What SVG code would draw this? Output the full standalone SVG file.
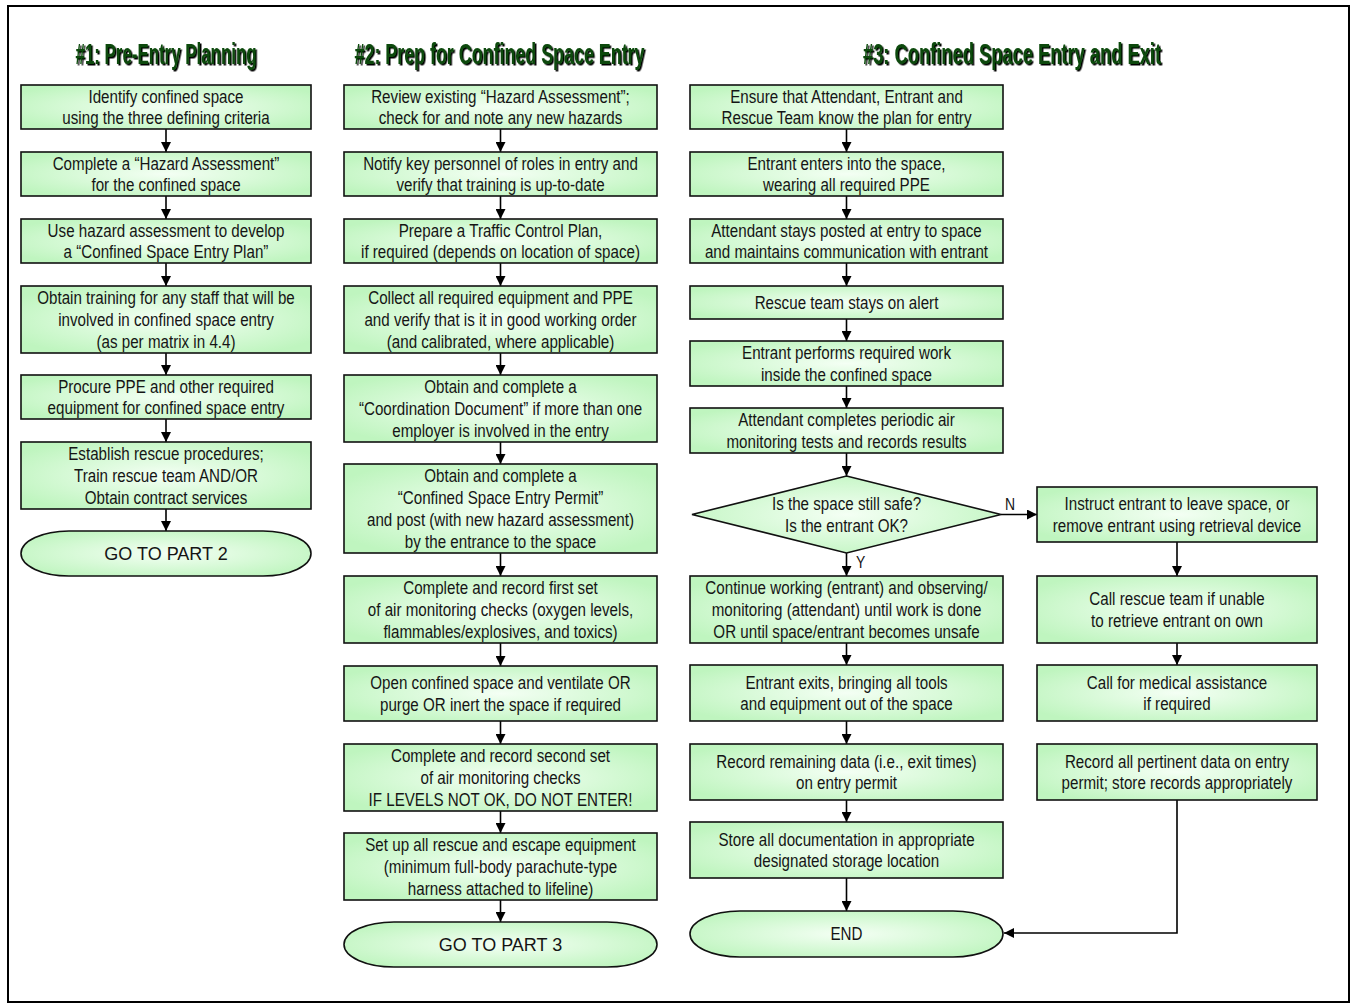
<svg xmlns="http://www.w3.org/2000/svg" width="1354" height="1007" viewBox="0 0 1354 1007">
<defs>
<radialGradient id="gf" cx="0.5" cy="0.5" r="0.6">
<stop offset="0" stop-color="#f4fff4"/>
<stop offset="1" stop-color="#bff5bf"/>
</radialGradient>
<filter id="sh" x="-5%" y="-20%" width="110%" height="140%">
<feDropShadow dx="1.5" dy="1.5" stdDeviation="0" flood-color="#000" flood-opacity="1"/>
</filter>
<marker id="ah" markerUnits="userSpaceOnUse" markerWidth="11" markerHeight="10" refX="10" refY="5" orient="auto">
<path d="M0,0 L10,5 L0,10 z" fill="#000"/>
</marker>
<style>
.bx{fill:url(#gf);stroke:#111;stroke-width:1.6}
.t{font-family:"Liberation Sans",Arial,sans-serif;font-size:18.5px;fill:#151515;text-anchor:middle}
.tw{font-family:"Liberation Sans",Arial,sans-serif;font-size:18px;fill:#151515;text-anchor:middle}
.ti{font-family:"Liberation Sans",Arial,sans-serif;font-weight:bold;font-size:30px;text-anchor:middle;fill:#0a4a0a;filter:url(#sh)}
.c{fill:none;stroke:#000;stroke-width:1.6;marker-end:url(#ah)}
.lb{font-family:"Liberation Sans",Arial,sans-serif;font-size:17px;fill:#151515}
</style>
</defs>
<rect x="8" y="6" width="1341" height="996" fill="#fff" stroke="#000" stroke-width="2"/>

<g id="titles">
<text class="ti" x="166" y="64" textLength="181" lengthAdjust="spacingAndGlyphs">#1: Pre-Entry Planning</text>
<text class="ti" x="499.5" y="64" textLength="290" lengthAdjust="spacingAndGlyphs">#2: Prep for Confined Space Entry</text>
<text class="ti" x="1012" y="64" textLength="298" lengthAdjust="spacingAndGlyphs">#3: Confined Space Entry and Exit</text>
</g>

<g id="connectors">
<path class="c" d="M166,129V152"/>
<path class="c" d="M166,196V219"/>
<path class="c" d="M166,263V286"/>
<path class="c" d="M166,353V375"/>
<path class="c" d="M166,419V442"/>
<path class="c" d="M166,509V531"/>
<path class="c" d="M500.5,129V152"/>
<path class="c" d="M500.5,196V219"/>
<path class="c" d="M500.5,263V286"/>
<path class="c" d="M500.5,353V375"/>
<path class="c" d="M500.5,442V464"/>
<path class="c" d="M500.5,553V576"/>
<path class="c" d="M500.5,643V666"/>
<path class="c" d="M500.5,721V744"/>
<path class="c" d="M500.5,811V833"/>
<path class="c" d="M500.5,900V922"/>
<path class="c" d="M846.5,129V152"/>
<path class="c" d="M846.5,196V219"/>
<path class="c" d="M846.5,263V286"/>
<path class="c" d="M846.5,319V341"/>
<path class="c" d="M846.5,386V408"/>
<path class="c" d="M846.5,453V476"/>
<path class="c" d="M846.5,553V576"/>
<path class="c" d="M846.5,643V665"/>
<path class="c" d="M846.5,721V744"/>
<path class="c" d="M846.5,800V822"/>
<path class="c" d="M846.5,878V911"/>
<path class="c" d="M1001,514.5H1037"/>
<path class="c" d="M1177,542V576"/>
<path class="c" d="M1177,643V665"/>
<path class="c" d="M1177,800V933H1004"/>
<text class="lb" transform="translate(1005 510) scale(0.82 1)">N</text>
<text class="lb" transform="translate(856 568) scale(0.82 1)">Y</text>
</g>

<g id="p1-1"><rect class="bx" x="21" y="85" width="290" height="44"/><g transform="translate(166 0) scale(0.82 1)"><text class="t" x="0" y="102.7">Identify confined space</text><text class="t" x="0" y="124.3">using the three defining criteria</text></g></g>
<g id="p1-2"><rect class="bx" x="21" y="152" width="290" height="44"/><g transform="translate(166 0) scale(0.82 1)"><text class="t" x="0" y="169.7">Complete a “Hazard Assessment”</text><text class="t" x="0" y="191.3">for the confined space</text></g></g>
<g id="p1-3"><rect class="bx" x="21" y="219" width="290" height="44"/><g transform="translate(166 0) scale(0.82 1)"><text class="t" x="0" y="236.7">Use hazard assessment to develop</text><text class="t" x="0" y="258.3">a “Confined Space Entry Plan”</text></g></g>
<g id="p1-4"><rect class="bx" x="21" y="286" width="290" height="67"/><g transform="translate(166 0) scale(0.82 1)"><text class="t" x="0" y="304.3">Obtain training for any staff that will be</text><text class="t" x="0" y="326">involved in confined space entry</text><text class="t" x="0" y="347.7">(as per matrix in 4.4)</text></g></g>
<g id="p1-5"><rect class="bx" x="21" y="375" width="290" height="44"/><g transform="translate(166 0) scale(0.82 1)"><text class="t" x="0" y="392.7">Procure PPE and other required</text><text class="t" x="0" y="414.3">equipment for confined space entry</text></g></g>
<g id="p1-6"><rect class="bx" x="21" y="442" width="290" height="67"/><g transform="translate(166 0) scale(0.82 1)"><text class="t" x="0" y="460.3">Establish rescue procedures;</text><text class="t" x="0" y="482">Train rescue team AND/OR</text><text class="t" x="0" y="503.7">Obtain contract services</text></g></g>
<g id="p1-end"><rect class="bx" x="21" y="531" width="290" height="45" rx="48" ry="22.5"/><text class="tw" x="166" y="560">GO TO PART 2</text></g>

<g id="p2-1"><rect class="bx" x="344" y="85" width="313" height="44"/><g transform="translate(500.5 0) scale(0.82 1)"><text class="t" x="0" y="102.7">Review existing “Hazard Assessment”;</text><text class="t" x="0" y="124.3">check for and note any new hazards</text></g></g>
<g id="p2-2"><rect class="bx" x="344" y="152" width="313" height="44"/><g transform="translate(500.5 0) scale(0.82 1)"><text class="t" x="0" y="169.7">Notify key personnel of roles in entry and</text><text class="t" x="0" y="191.3">verify that training is up-to-date</text></g></g>
<g id="p2-3"><rect class="bx" x="344" y="219" width="313" height="44"/><g transform="translate(500.5 0) scale(0.82 1)"><text class="t" x="0" y="236.7">Prepare a Traffic Control Plan,</text><text class="t" x="0" y="258.3">if required (depends on location of space)</text></g></g>
<g id="p2-4"><rect class="bx" x="344" y="286" width="313" height="67"/><g transform="translate(500.5 0) scale(0.82 1)"><text class="t" x="0" y="304.3">Collect all required equipment and PPE</text><text class="t" x="0" y="326">and verify that is it in good working order</text><text class="t" x="0" y="347.7">(and calibrated, where applicable)</text></g></g>
<g id="p2-5"><rect class="bx" x="344" y="375" width="313" height="67"/><g transform="translate(500.5 0) scale(0.82 1)"><text class="t" x="0" y="393.3">Obtain and complete a</text><text class="t" x="0" y="415">“Coordination Document” if more than one</text><text class="t" x="0" y="436.7">employer is involved in the entry</text></g></g>
<g id="p2-6"><rect class="bx" x="344" y="464" width="313" height="89"/><g transform="translate(500.5 0) scale(0.82 1)"><text class="t" x="0" y="482.5">Obtain and complete a</text><text class="t" x="0" y="504.2">“Confined Space Entry Permit”</text><text class="t" x="0" y="525.9">and post  (with new hazard assessment)</text><text class="t" x="0" y="547.6">by the entrance to the space</text></g></g>
<g id="p2-7"><rect class="bx" x="344" y="576" width="313" height="67"/><g transform="translate(500.5 0) scale(0.82 1)"><text class="t" x="0" y="594.3">Complete and record first set</text><text class="t" x="0" y="616">of air monitoring checks (oxygen levels,</text><text class="t" x="0" y="637.7">flammables/explosives, and toxics)</text></g></g>
<g id="p2-8"><rect class="bx" x="344" y="666" width="313" height="55"/><g transform="translate(500.5 0) scale(0.82 1)"><text class="t" x="0" y="689">Open confined space and ventilate OR</text><text class="t" x="0" y="710.7">purge OR inert the space if required</text></g></g>
<g id="p2-9"><rect class="bx" x="344" y="744" width="313" height="67"/><g transform="translate(500.5 0) scale(0.82 1)"><text class="t" x="0" y="762.3">Complete and record second set</text><text class="t" x="0" y="784">of air monitoring checks</text><text class="t" x="0" y="805.7">IF LEVELS NOT OK, DO NOT ENTER!</text></g></g>
<g id="p2-10"><rect class="bx" x="344" y="833" width="313" height="67"/><g transform="translate(500.5 0) scale(0.82 1)"><text class="t" x="0" y="851.3">Set up all rescue and escape equipment</text><text class="t" x="0" y="873">(minimum full-body parachute-type</text><text class="t" x="0" y="894.7">harness attached to lifeline)</text></g></g>
<g id="p2-end"><rect class="bx" x="344" y="922" width="313" height="45" rx="50" ry="22.5"/><text class="tw" x="500.5" y="951">GO TO PART 3</text></g>

<g id="p3-1"><rect class="bx" x="690" y="85" width="313" height="44"/><g transform="translate(846.5 0) scale(0.82 1)"><text class="t" x="0" y="102.7">Ensure that Attendant, Entrant and</text><text class="t" x="0" y="124.3">Rescue Team know the plan for entry</text></g></g>
<g id="p3-2"><rect class="bx" x="690" y="152" width="313" height="44"/><g transform="translate(846.5 0) scale(0.82 1)"><text class="t" x="0" y="169.7">Entrant enters into the space,</text><text class="t" x="0" y="191.3">wearing all required PPE</text></g></g>
<g id="p3-3"><rect class="bx" x="690" y="219" width="313" height="44"/><g transform="translate(846.5 0) scale(0.82 1)"><text class="t" x="0" y="236.7">Attendant stays posted at entry to space</text><text class="t" x="0" y="258.3">and maintains communication with entrant</text></g></g>
<g id="p3-4"><rect class="bx" x="690" y="286" width="313" height="33"/><g transform="translate(846.5 0) scale(0.82 1)"><text class="t" x="0" y="309">Rescue team stays on alert</text></g></g>
<g id="p3-5"><rect class="bx" x="690" y="341" width="313" height="45"/><g transform="translate(846.5 0) scale(0.82 1)"><text class="t" x="0" y="359.2">Entrant performs required work</text><text class="t" x="0" y="380.8">inside the confined space</text></g></g>
<g id="p3-6"><rect class="bx" x="690" y="408" width="313" height="45"/><g transform="translate(846.5 0) scale(0.82 1)"><text class="t" x="0" y="426.2">Attendant completes periodic air</text><text class="t" x="0" y="447.8">monitoring tests and records results</text></g></g>
<g id="p3-dec"><path class="bx" d="M846.5,476 L1001,514.5 L846.5,553 L692,514.5 Z"/><g transform="translate(846.5 0) scale(0.82 1)"><text class="t" x="0" y="510.2">Is the space still safe?</text><text class="t" x="0" y="531.8">Is the entrant OK?</text></g></g>
<g id="p3-7"><rect class="bx" x="690" y="576" width="313" height="67"/><g transform="translate(846.5 0) scale(0.82 1)"><text class="t" x="0" y="594.3">Continue working (entrant) and observing/</text><text class="t" x="0" y="616">monitoring (attendant) until work is done</text><text class="t" x="0" y="637.7">OR until space/entrant  becomes unsafe</text></g></g>
<g id="p3-8"><rect class="bx" x="690" y="665" width="313" height="56"/><g transform="translate(846.5 0) scale(0.82 1)"><text class="t" x="0" y="688.7">Entrant exits, bringing all tools</text><text class="t" x="0" y="710.3">and equipment out of the space</text></g></g>
<g id="p3-9"><rect class="bx" x="690" y="744" width="313" height="56"/><g transform="translate(846.5 0) scale(0.82 1)"><text class="t" x="0" y="767.7">Record remaining data (i.e., exit times)</text><text class="t" x="0" y="789.3">on entry permit</text></g></g>
<g id="p3-10"><rect class="bx" x="690" y="822" width="313" height="56"/><g transform="translate(846.5 0) scale(0.82 1)"><text class="t" x="0" y="845.7">Store all documentation in appropriate</text><text class="t" x="0" y="867.3">designated storage location</text></g></g>
<g id="p3-end"><rect class="bx" x="690" y="911" width="313" height="46" rx="50" ry="23"/><g transform="translate(846.5 0) scale(0.82 1)"><text class="t" x="0" y="940.5">END</text></g></g>

<g id="p4-1"><rect class="bx" x="1037" y="487" width="280" height="55"/><g transform="translate(1177 0) scale(0.82 1)"><text class="t" x="0" y="510.2">Instruct entrant to leave space, or</text><text class="t" x="0" y="531.8">remove entrant using retrieval device</text></g></g>
<g id="p4-2"><rect class="bx" x="1037" y="576" width="280" height="67"/><g transform="translate(1177 0) scale(0.82 1)"><text class="t" x="0" y="605.2">Call rescue team if unable</text><text class="t" x="0" y="626.8">to retrieve entrant on own</text></g></g>
<g id="p4-3"><rect class="bx" x="1037" y="665" width="280" height="56"/><g transform="translate(1177 0) scale(0.82 1)"><text class="t" x="0" y="688.7">Call for medical assistance</text><text class="t" x="0" y="710.3">if required</text></g></g>
<g id="p4-4"><rect class="bx" x="1037" y="744" width="280" height="56"/><g transform="translate(1177 0) scale(0.82 1)"><text class="t" x="0" y="767.7">Record all pertinent data on entry</text><text class="t" x="0" y="789.3">permit; store records appropriately</text></g></g>
</svg>
